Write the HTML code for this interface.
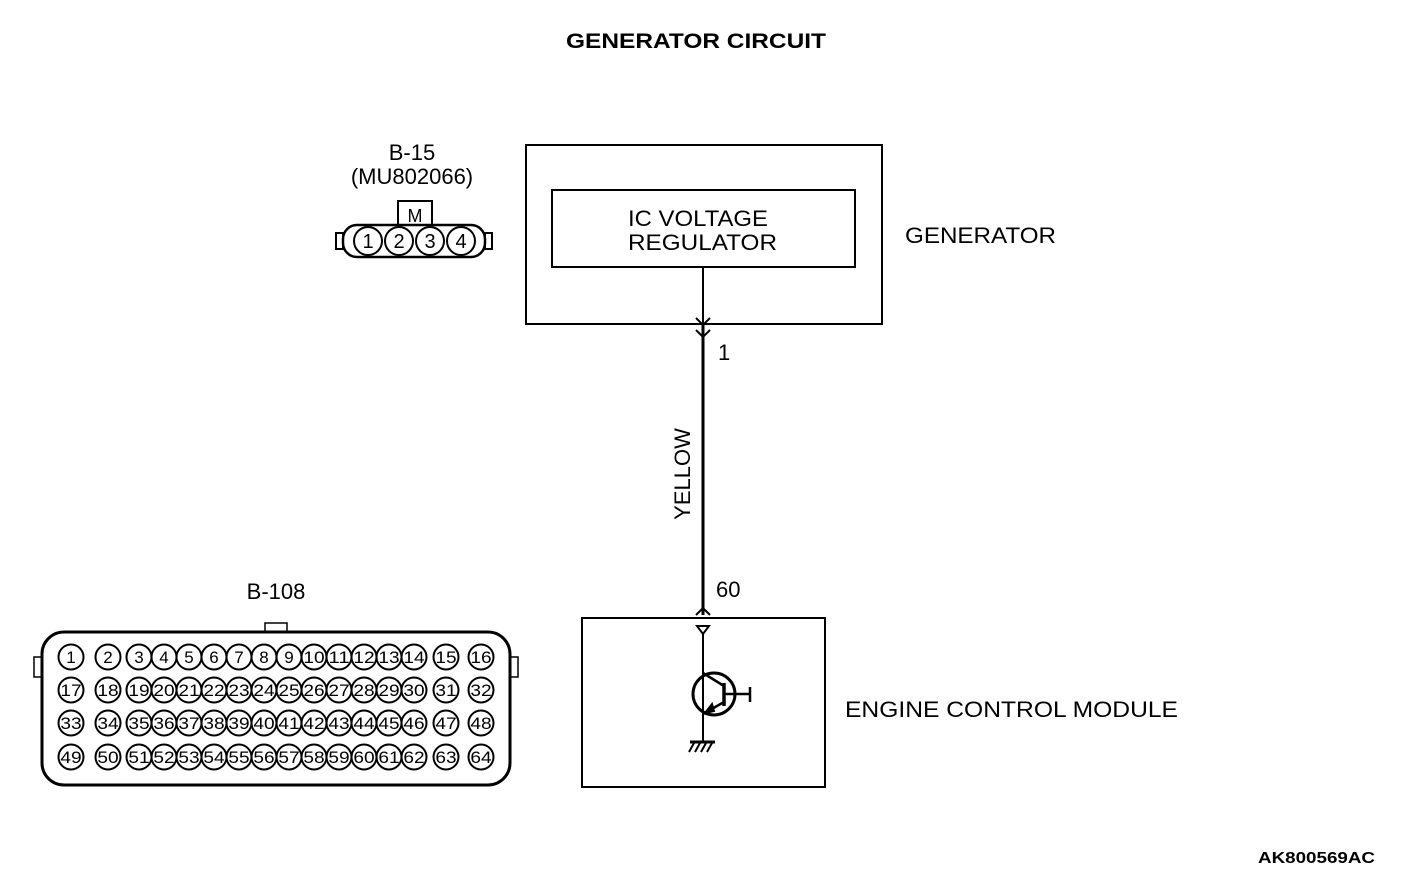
<!DOCTYPE html>
<html><head><meta charset="utf-8"><style>
html,body{margin:0;padding:0;background:#fff;width:1408px;height:888px;overflow:hidden}
svg text{font-family:"Liberation Sans",Arial,sans-serif;fill:#000}
</style></head><body>
<svg id="s" width="1408" height="888" viewBox="0 0 1408 888" xmlns="http://www.w3.org/2000/svg">
<g fill="none" stroke="#000" stroke-width="2">
<text x="566" y="48" font-size="21" textLength="260" lengthAdjust="spacingAndGlyphs" font-weight="bold" stroke="none" fill="#333">GENERATOR CIRCUIT</text>
<!-- generator -->
<rect x="526" y="145" width="356" height="179"/>
<rect x="552" y="190" width="303" height="77"/>
<text x="628" y="226" font-size="22" textLength="140" lengthAdjust="spacingAndGlyphs" stroke="none">IC VOLTAGE</text>
<text x="628" y="250" font-size="22" textLength="149" lengthAdjust="spacingAndGlyphs" stroke="none">REGULATOR</text>
<text x="905" y="243" font-size="22" textLength="151" lengthAdjust="spacingAndGlyphs" stroke="none">GENERATOR</text>
<line x1="703" y1="267" x2="703" y2="324"/>
<line x1="703" y1="324" x2="703" y2="615" stroke-width="3"/>
<polyline points="696,318 703,325 710,318"/>
<polyline points="696,330 703,337 710,330"/>
<text x="718" y="360" font-size="22" stroke="none">1</text>
<text x="690" y="474" font-size="22" text-anchor="middle" stroke="none" transform="rotate(-90 690 474)">YELLOW</text>
<text x="716" y="597" font-size="22" stroke="none">60</text>
<polyline points="696,615 703,608 710,615"/>
<!-- ECM -->
<rect x="582" y="618" width="243" height="169"/>
<text x="845" y="717" font-size="22" textLength="333" lengthAdjust="spacingAndGlyphs" stroke="none">ENGINE CONTROL MODULE</text>
<polygon points="697,626 709,626 703,634"/>
<line x1="703" y1="634" x2="703" y2="741"/>
<circle cx="714" cy="694" r="21" stroke-width="3"/>
<line x1="724" y1="683" x2="724" y2="706" stroke-width="3.5"/>
<line x1="703" y1="673" x2="724" y2="686" stroke-width="2.5"/>
<line x1="703" y1="714" x2="724" y2="702" stroke-width="2.5"/>
<polygon points="705,713 712,704 714,711" fill="#000"/>
<line x1="724" y1="694" x2="750" y2="694" stroke-width="2.5"/>
<line x1="750" y1="687" x2="750" y2="702" stroke-width="2.5"/>
<line x1="690" y1="742" x2="715" y2="742" stroke-width="3"/>
<line x1="694" y1="743" x2="689" y2="752"/><line x1="700" y1="743" x2="695" y2="752"/><line x1="706" y1="743" x2="701" y2="752"/><line x1="712" y1="743" x2="707" y2="752"/>
<!-- B-15 -->
<text x="412" y="160" font-size="22" text-anchor="middle" stroke="none">B-15</text>
<text x="412" y="184" font-size="22" text-anchor="middle" stroke="none">(MU802066)</text>
<rect x="398" y="201" width="34" height="24"/>
<text x="415" y="222" font-size="18" text-anchor="middle" stroke="none">M</text>
<rect x="343" y="225" width="142" height="32" rx="14" stroke-width="2.5"/>
<rect x="336" y="233" width="7" height="16"/>
<rect x="485" y="233" width="7" height="16"/>
<g id="b15" stroke-width="2"></g>
<!-- B-108 -->
<text x="276" y="599" font-size="22" text-anchor="middle" stroke="none">B-108</text>
<rect x="265" y="623" width="22" height="9" stroke-width="1.5"/>
<rect x="42" y="632" width="468" height="153" rx="22" stroke-width="3"/>
<rect x="34" y="657" width="8" height="20" stroke-width="1.5"/>
<rect x="510" y="657" width="8" height="20" stroke-width="1.5"/>
<g id="b108" stroke-width="2"></g>
<text x="1258" y="863" font-size="16" textLength="117" lengthAdjust="spacingAndGlyphs" font-weight="bold" stroke="none" fill="#333">AK800569AC</text>
</g>
<script>
var ns="http://www.w3.org/2000/svg";
function add(g,x,y,r,t,fs){var c=document.createElementNS(ns,"circle");c.setAttribute("cx",x);c.setAttribute("cy",y);c.setAttribute("r",r);g.appendChild(c);
var tx=document.createElementNS(ns,"text");tx.setAttribute("x",x);tx.setAttribute("y",y+fs*0.36);tx.setAttribute("font-size",fs);tx.setAttribute("text-anchor","middle");tx.setAttribute("stroke","none");if(t.length>1){tx.setAttribute("textLength",r*1.7);tx.setAttribute("lengthAdjust","spacingAndGlyphs");}tx.textContent=t;g.appendChild(tx);}
var g=document.getElementById("b15");[368,399,430,461].forEach(function(x,i){add(g,x,241,14,""+(i+1),20)});
var h=document.getElementById("b108");var ys=[657,690,723,757];
var xs=[71,108,139,164,189,214,239,264,289,314,339,364,389,414,446,481];
for(var r=0;r<4;r++)for(var c=0;c<16;c++)add(h,xs[c],ys[r],12.5,""+(r*16+c+1),17);
</script>
</svg>
</body></html>
